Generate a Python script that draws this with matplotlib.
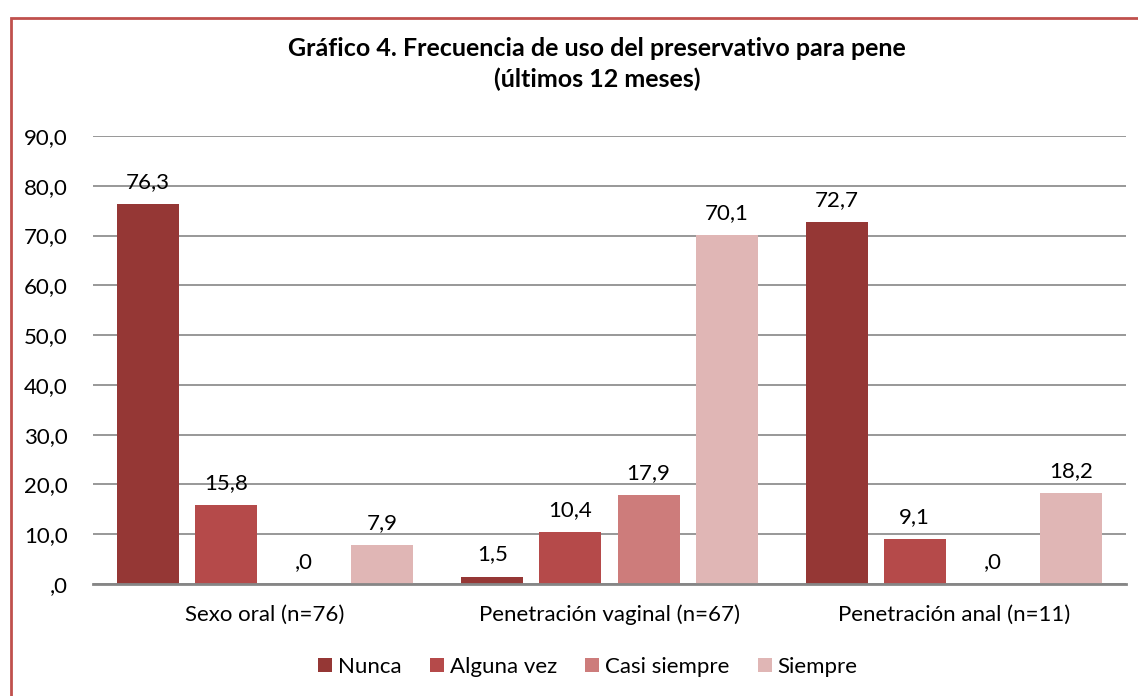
import numpy as np
import matplotlib.pyplot as plt
from matplotlib.patches import Rectangle

# ---------------------------------------------------------------------------
# Data
# ---------------------------------------------------------------------------
categories = ['Sexo oral (n=76)', 'Penetración vaginal (n=67)', 'Penetración anal (n=11)']
series = ['Nunca', 'Alguna vez', 'Casi siempre', 'Siempre']
nunca = [76.3, 1.5, 72.7]
alguna_vez = [15.8, 10.4, 9.1]
casi_siempre = [0.0, 17.9, 0.0]
siempre = [7.9, 70.1, 18.2]
yticks = [0, 10, 20, 30, 40, 50, 60, 70, 80, 90]

colors = ['#953735', '#B54A4A', '#CD7C7B', '#E0B6B5']


def fmt(v):
    s = f'{v:.1f}'.replace('.', ',')
    return s[1:] if s.startswith('0') else s


plt.rcParams['font.family'] = ['Lato', 'DejaVu Sans']

W, H = 1138, 696
fig = plt.figure(figsize=(W / 100, H / 100), dpi=100)

# red frame around the chart (cut off at right/bottom like the original)
fig.add_artist(Rectangle((11 / W, -0.05), 1.2, 1 - 18 / H + 0.05,
                         transform=fig.transFigure, fill=False,
                         edgecolor='#C0504D', lw=2))

ax = fig.add_axes([93 / W, 1 - 584 / H, (1126 - 93) / W, (584 - 136) / H])

x = np.arange(len(categories))
step = 0.227
width = 0.18
values = [nunca, alguna_vez, casi_siempre, siempre]
for i, (name, vals, c) in enumerate(zip(series, values, colors)):
    pos = x + (i - 1.5) * step
    ax.bar(pos, vals, width=width, color=c, label=name, zorder=3)
    for p, v in zip(pos, vals):
        ax.text(p, v + 2.4, fmt(v), ha='center', va='bottom', fontsize=16)

ax.set_xlim(-0.5, 2.5)
ax.set_ylim(0, 90)
ax.set_yticks(yticks)
ax.set_yticklabels([fmt(t) for t in yticks], fontsize=16)
ax.set_xticks(x)
ax.set_xticklabels(categories, fontsize=16)
ax.tick_params(length=0)
ax.tick_params(axis='y', pad=18)
ax.tick_params(axis='x', pad=15)
ax.yaxis.grid(True, color='#868686', lw=1.2, zorder=0)
for s in ['top', 'right', 'left']:
    ax.spines[s].set_visible(False)
ax.spines['bottom'].set_color('#868686')
ax.spines['bottom'].set_linewidth(2)
ax.spines['bottom'].set_zorder(4)

fig.text(597 / W, 1 - 64 / H, 'Gráfico 4. Frecuencia de uso del preservativo para pene\n(últimos 12 meses)',
         ha='center', va='center', fontsize=18, fontweight='bold', linespacing=1.35)

fig.legend(loc='center', bbox_to_anchor=(588 / W, 1 - 667 / H), ncol=4, frameon=False,
           fontsize=16, handlelength=0.63, handleheight=0.63, handletextpad=0.27,
           columnspacing=1.26)

fig.savefig('out.png', dpi=100)
